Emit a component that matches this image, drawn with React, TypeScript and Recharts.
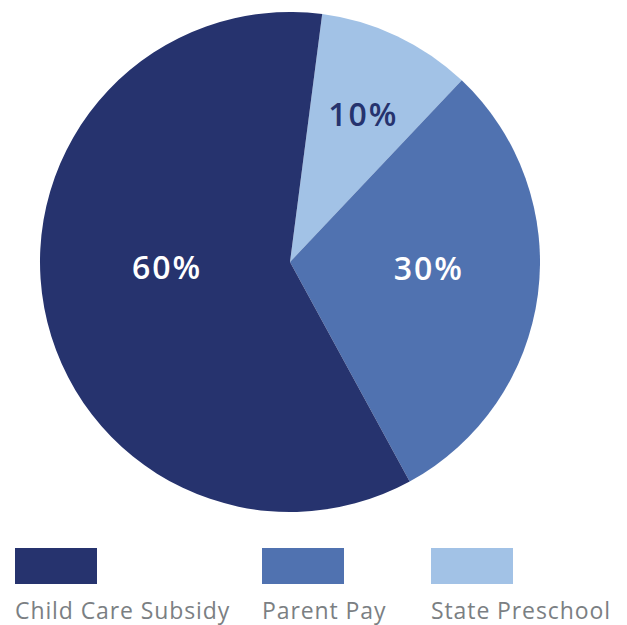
import React from 'react';
import { PieChart, Pie, Cell, Legend } from 'recharts';

const categories = ['State Preschool', 'Parent Pay', 'Child Care Subsidy'];
const values = [10, 30, 60];
const colors = ['#a2c2e6', '#5072b0', '#26336e'];
const labelColors = ['#26336e', '#ffffff', '#ffffff'];
const labelRadius = [0.6, 0.56, 0.5];
const labelShiftX = [9, 0, 0];
const labelShiftY = [0, 0, -6];

const legendOrder = ['Child Care Subsidy', 'Parent Pay', 'State Preschool'];
const legendLeft = [15, 262, 431];

const data = categories.map((name, i) => ({ name, value: values[i] }));

const RAD = Math.PI / 180;

const renderLabel = (props: any) => {
  const { cx, cy, midAngle, outerRadius, index, percent } = props;
  const r = outerRadius * labelRadius[index];
  const x = cx + r * Math.cos(-midAngle * RAD) + labelShiftX[index];
  const y = cy + r * Math.sin(-midAngle * RAD) + labelShiftY[index];
  return (
    <text
      x={x}
      y={y}
      textAnchor="middle"
      fill={labelColors[index]}
      fontFamily="'Open Sans', sans-serif"
      fontWeight={600}
      fontSize={32}
      letterSpacing={2}
    >
      {`${Math.round(percent * 100)}%`}
    </text>
  );
};

const renderLegend = () => (
  <div style={{ position: 'relative', width: 627, height: 80 }}>
    {legendOrder.map((name, i) => {
      const idx = categories.indexOf(name);
      return (
        <div key={name} style={{ position: 'absolute', left: legendLeft[i], top: 0 }}>
          <div style={{ width: 82, height: 36, background: colors[idx] }} />
          <div
            style={{
              marginTop: 11,
              fontFamily: "'Open Sans', sans-serif",
              fontSize: 23,
              letterSpacing: 0.9,
              color: '#7b7f83',
              whiteSpace: 'nowrap',
              lineHeight: '30px',
            }}
          >
            {name}
          </div>
        </div>
      );
    })}
  </div>
);

export default function App() {
  return (
    <div style={{ position: 'absolute', left: 0, top: 0, width: 627, height: 625, background: '#fff' }}>
      <PieChart width={627} height={625} margin={{ top: 0, right: 0, bottom: 0, left: 0 }}>
        <Pie
          data={data}
          dataKey="value"
          nameKey="name"
          cx={290}
          cy={262}
          outerRadius={250}
          startAngle={82.6}
          endAngle={-277.4}
          stroke="none"
          labelLine={false}
          label={renderLabel}
          isAnimationActive={false}
        >
          {data.map((d, i) => (
            <Cell key={d.name} fill={colors[i]} />
          ))}
        </Pie>
        <Legend
          content={renderLegend}
          wrapperStyle={{ position: 'absolute', left: 0, top: 548, width: 627, height: 80 }}
        />
      </PieChart>
    </div>
  );
}
